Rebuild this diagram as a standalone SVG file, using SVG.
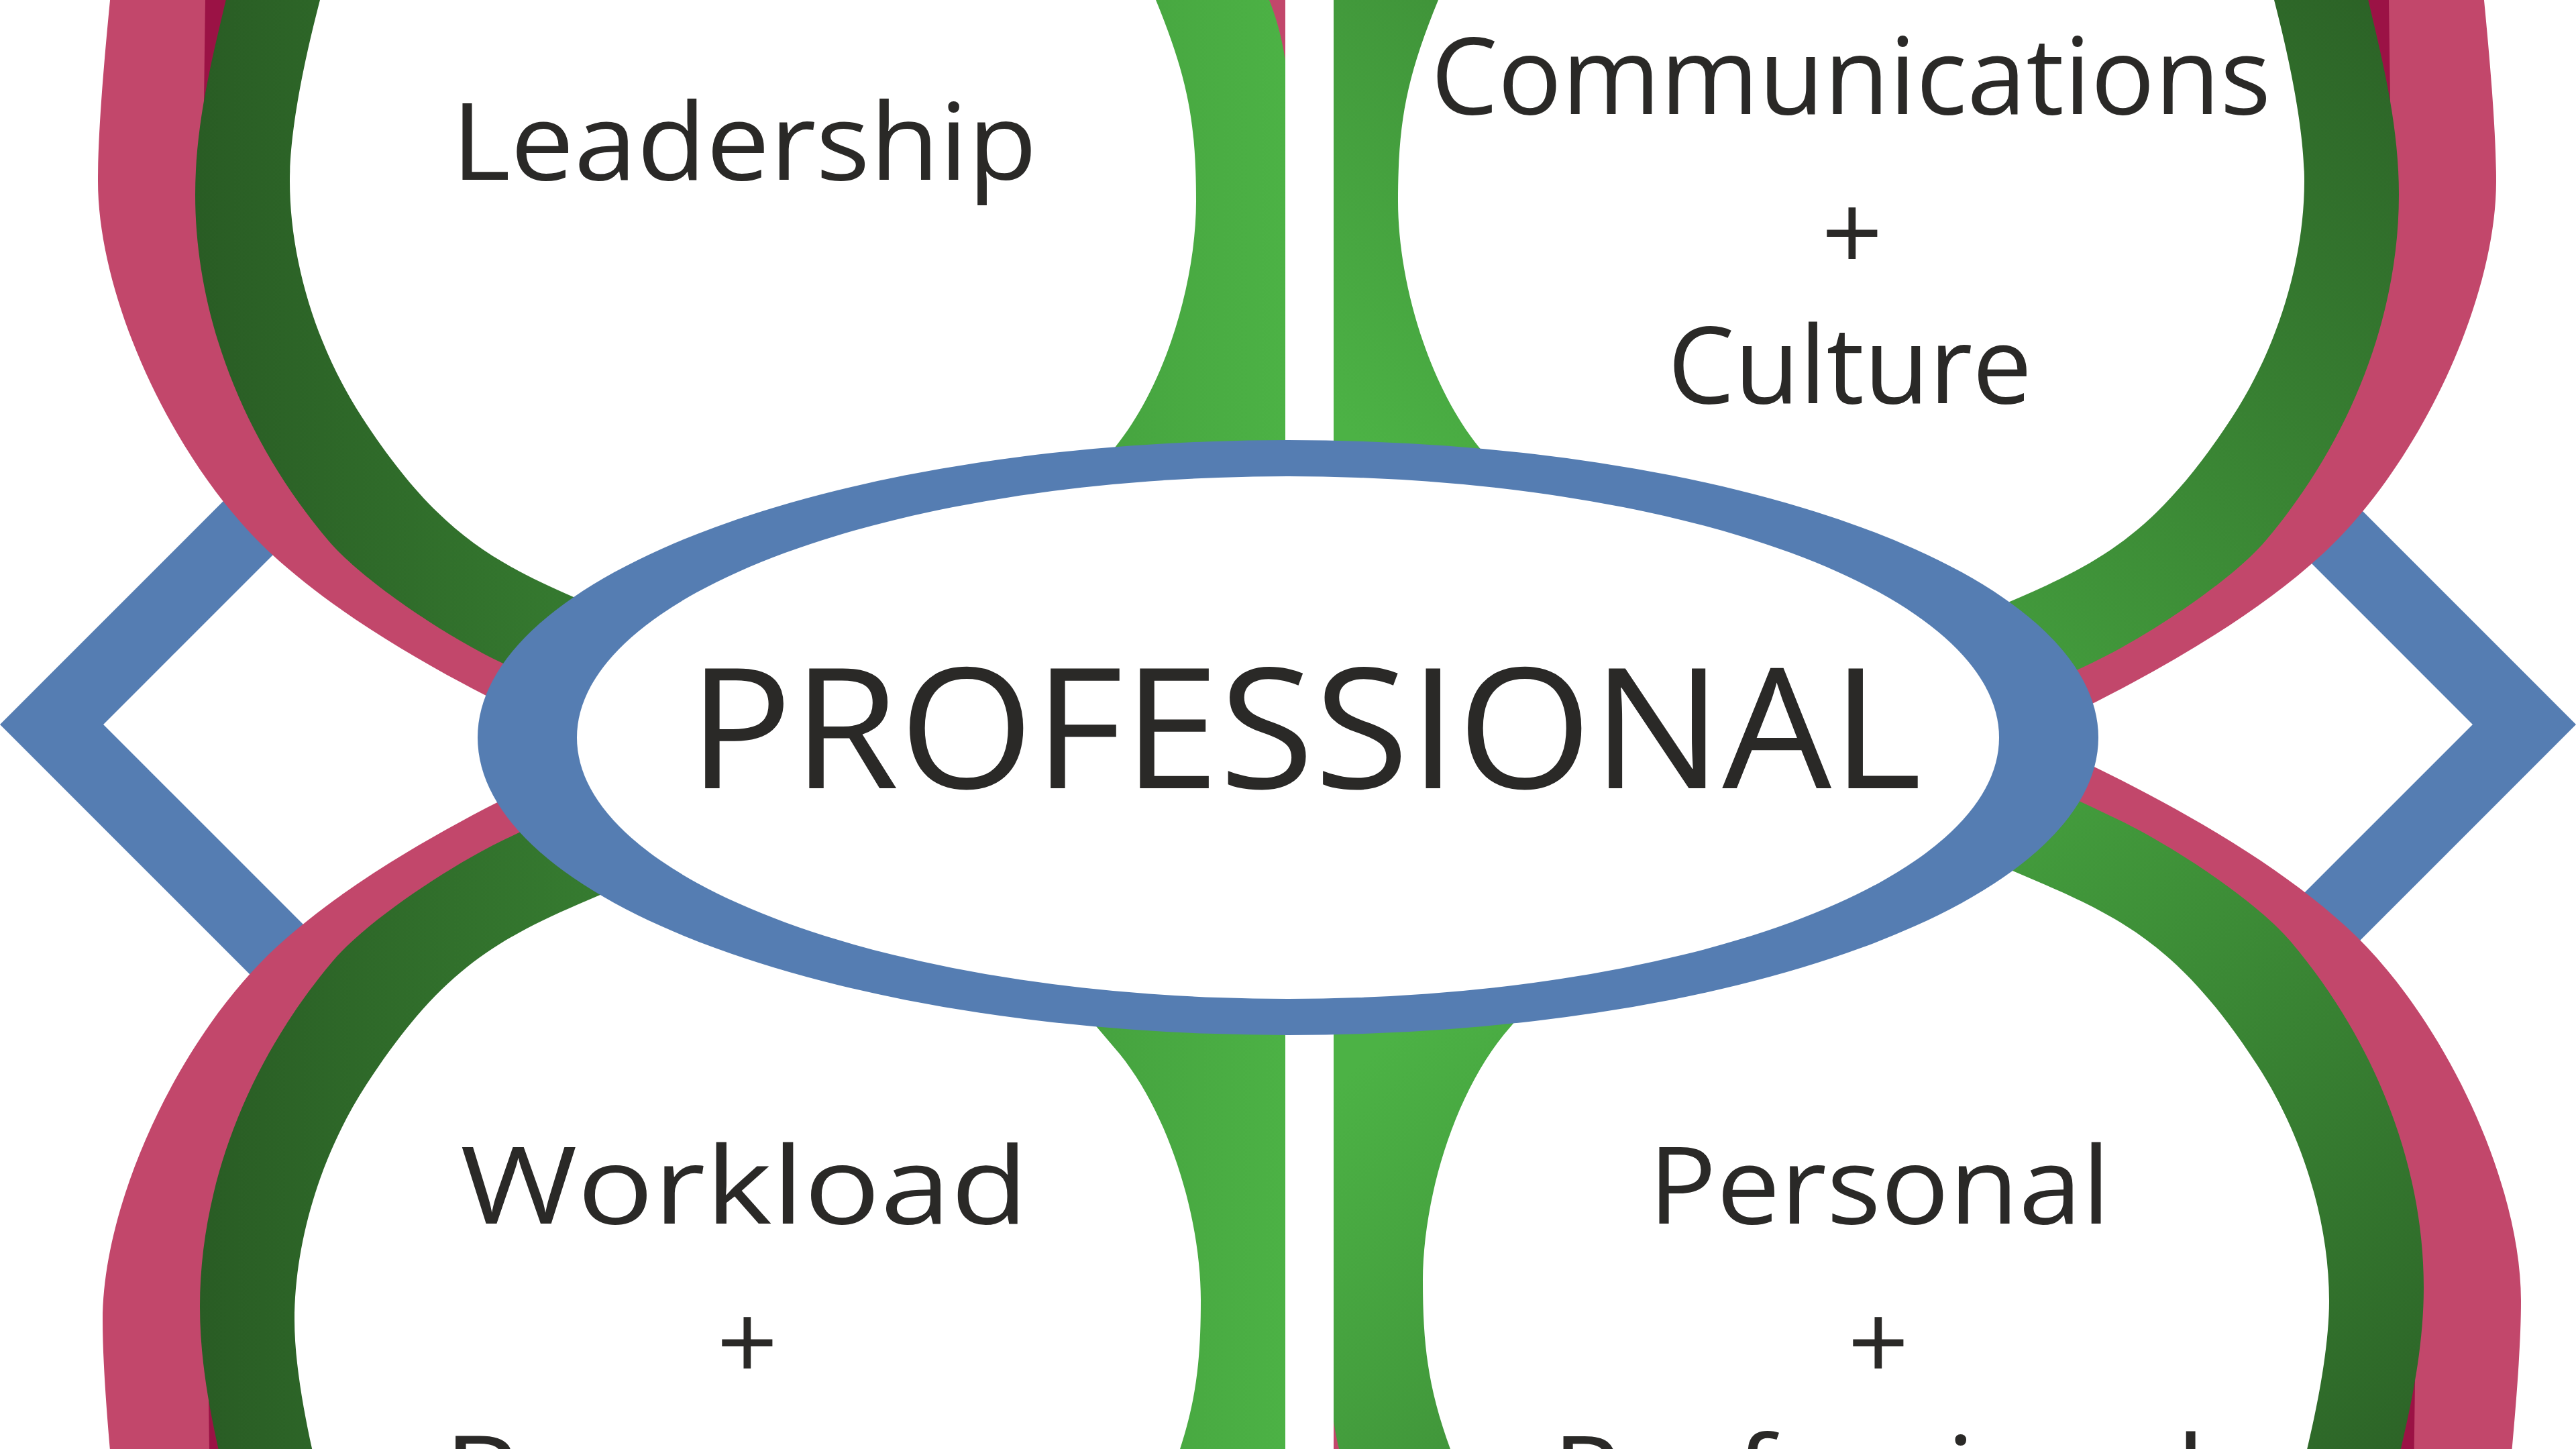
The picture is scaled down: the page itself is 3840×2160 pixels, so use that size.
<svg xmlns="http://www.w3.org/2000/svg" xmlns:xlink="http://www.w3.org/1999/xlink" width="3840" height="2160" viewBox="0 0 3840 2160">
<defs>
<style>
.pink{fill:#c2476b}
.crim{fill:#9b1245}
.wh{fill:#ffffff}
.blue{fill:#557db2}
.frame{fill:none;stroke:#557db2;stroke-width:109;stroke-linejoin:miter}
.lbl{font-family:"Open Sans","Liberation Sans",sans-serif;fill:#2a2927;font-size:160px}
.big{font-size:250px}
</style>
<linearGradient id="gH" gradientUnits="userSpaceOnUse" x1="290" y1="0" x2="1916" y2="0">
<stop offset="0" stop-color="#295c24"/>
<stop offset="1" stop-color="#4cb245"/>
</linearGradient>
<linearGradient id="gD" gradientUnits="userSpaceOnUse" x1="367" y1="-200" x2="1467" y2="1000">
<stop offset="0" stop-color="#295c24"/>
<stop offset="1" stop-color="#4cb245"/>
</linearGradient>
<path id="pinkP" d="M 170,-60 C 160,40 146,180 146,270 C 146,450 264,697 406,827 C 504,917 640,995 760,1055 C 800,1075 860,1105 900,1130 L 1916,1130 L 1916,-60 Z"/>
<path id="crimP" d="M 303,-60 L 306,0 L 304,150 L 380,150 L 380,-60 Z"/>
<path id="greenP" d="M 350,-60 C 330,40 291,160 291,290 C 291,470 362,654 488,804 C 538,864 664,948 748,988 C 830,1027 950,1085 1050,1130 L 1916,1130 L 1916,90 C 1910,50 1900,20 1892,0 L 1880,-60 Z"/>
<path id="whiteP" d="M 960,935 L 855,890 C 728.6,835 646.7,786.7 539,621 C 471,516.4 432,386.6 432,270 C 432,180 462,58 477,0 C 501.6,-96.9 800,-420 1107,-420 C 1414,-420 1698,-61 1723,0 C 1771,117 1783,183 1783,300 C 1783,414.8 1740.7,569.5 1662,667 L 1600,740 L 1300,1000 L 1100,1060 Z"/>
<clipPath id="cL"><rect x="-100" y="-100" width="2016" height="2400"/></clipPath>
<clipPath id="cR"><rect x="1988" y="-100" width="2000" height="2400"/></clipPath>
</defs>
<rect width="3840" height="2160" fill="#ffffff"/>
<g id="connectors">
<polygon class="frame" points="77,1080 1920,-763 3763,1080 1920,2923"/>
</g>
<g id="leadership" clip-path="url(#cL)">
<g>
<use xlink:href="#pinkP" class="pink"/>
<use xlink:href="#crimP" class="crim"/>
<use xlink:href="#greenP" fill="url(#gH)"/>
<use xlink:href="#whiteP" class="wh"/>
</g>
<text class="lbl" x="673" y="268" textLength="873" lengthAdjust="spacingAndGlyphs">Leadership</text>
</g>
<g id="communications-culture" clip-path="url(#cR)">
<g transform="matrix(-1 0 0 1 3867 0)">
<use xlink:href="#pinkP" class="pink"/>
<use xlink:href="#crimP" class="crim"/>
<use xlink:href="#greenP" fill="url(#gD)"/>
<use xlink:href="#whiteP" class="wh"/>
</g>
<text class="lbl" x="2133" y="170" textLength="1252" lengthAdjust="spacingAndGlyphs">Communications</text>
<text class="lbl" x="2761" y="404" text-anchor="middle">+</text>
<text class="lbl" x="2486" y="601" textLength="543" lengthAdjust="spacingAndGlyphs">Culture</text>
</g>
<g id="workload-resources" clip-path="url(#cL)">
<g transform="matrix(1 0 0 -1 7 2238)">
<use xlink:href="#pinkP" class="pink"/>
<use xlink:href="#crimP" class="crim"/>
<use xlink:href="#greenP" fill="url(#gH)"/>
<use xlink:href="#whiteP" class="wh"/>
</g>
<text class="lbl" x="686" y="1824" textLength="847" lengthAdjust="spacingAndGlyphs">Workload</text>
<text class="lbl" x="1114" y="2058" text-anchor="middle">+</text>
<text class="lbl" x="661" y="2255" textLength="890" lengthAdjust="spacingAndGlyphs">Resources</text>
</g>
<g id="personal-professional" clip-path="url(#cR)">
<g transform="matrix(-1 0 0 -1 3904 2209)">
<use xlink:href="#pinkP" class="pink"/>
<use xlink:href="#crimP" class="crim"/>
<use xlink:href="#greenP" fill="url(#gD)"/>
<use xlink:href="#whiteP" class="wh"/>
</g>
<text class="lbl" x="2457" y="1824" textLength="689" lengthAdjust="spacingAndGlyphs">Personal</text>
<text class="lbl" x="2800" y="2058" text-anchor="middle">+</text>
<text class="lbl" x="2314" y="2255" textLength="973" lengthAdjust="spacingAndGlyphs">Professional</text>
</g>
<g id="professional">
<ellipse class="blue" cx="1920" cy="1099.5" rx="1208" ry="443.5"/>
<ellipse class="wh" cx="1920" cy="1099.5" rx="1060" ry="389.5"/>
<text class="lbl big" x="1026" y="1175" textLength="1839" lengthAdjust="spacingAndGlyphs">PROFESSIONAL</text>
</g>
</svg>
